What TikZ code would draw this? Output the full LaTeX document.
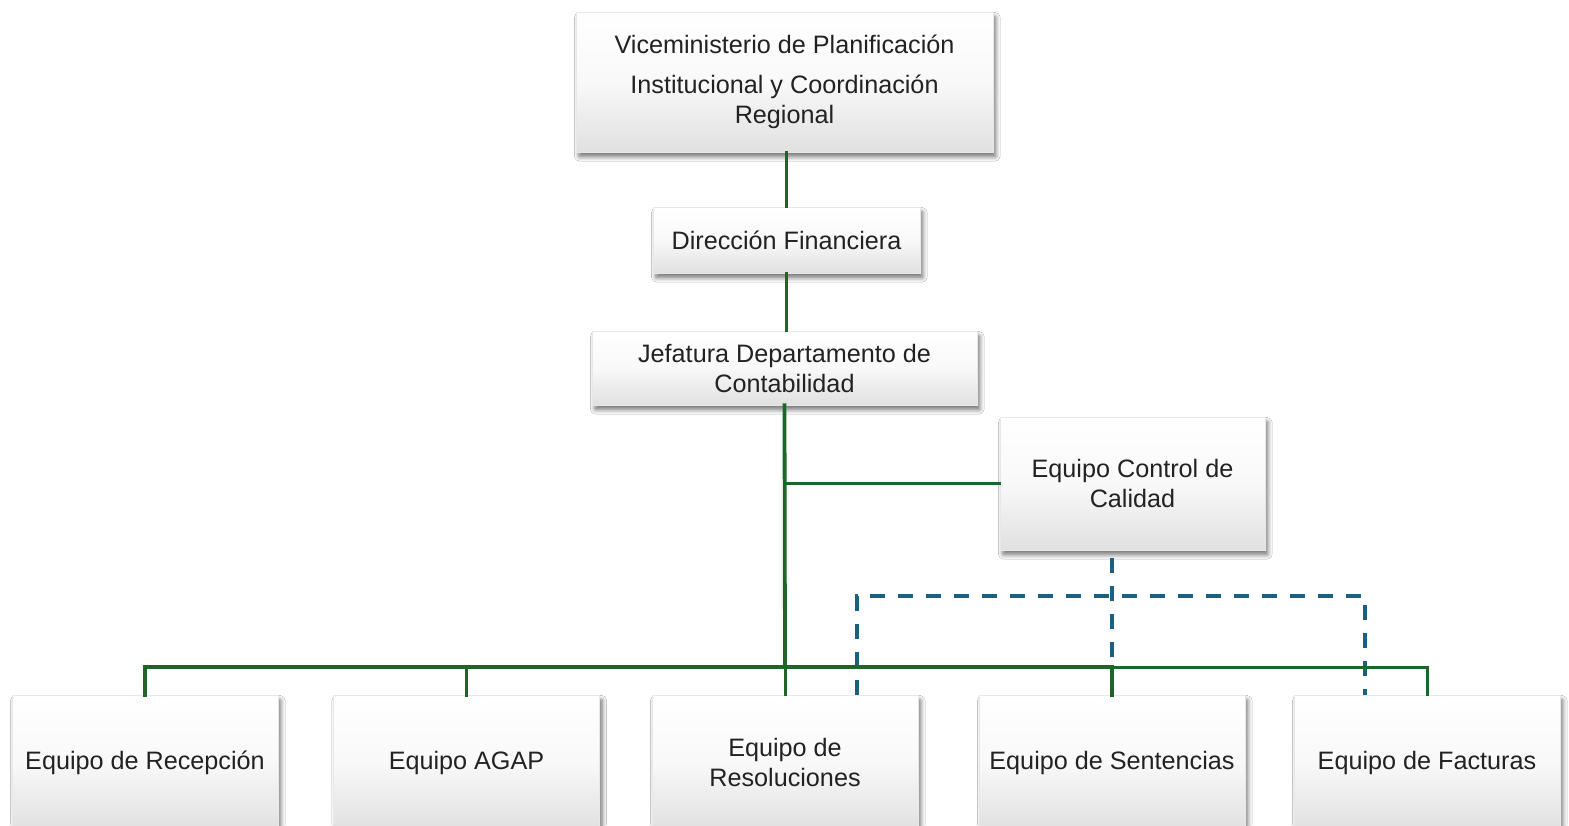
\documentclass[tikz,border=0pt]{standalone}
\usepackage{fontspec}
\setmainfont{Liberation Sans}
\usetikzlibrary{shadows.blur,calc}
\definecolor{orggreen}{RGB}{28,102,40}
\definecolor{orgblue}{RGB}{26,96,128}
\definecolor{txt}{RGB}{34,34,34}
\tikzset{
  orgbox/.style={rectangle, draw=gray!18, line width=0.3pt,
    top color=white, bottom color=gray!24, middle color=white!95!gray,
    text=txt, align=center, inner sep=2pt,
    font=\fontsize{12.6}{15}\selectfont,
    blur shadow={shadow xshift=1.4pt, shadow yshift=-2.4pt, shadow blur steps=8, shadow blur radius=2.2pt, shadow blur extra rounding=0.4pt, shadow opacity=55}},
  solidlink/.style={draw=orggreen, line width=1.5pt, line cap=rect},
  dashlink/.style={draw=orgblue, line width=1.7pt, dash pattern=on 7.5pt off 6.5pt}
}
\begin{document}
\begin{tikzpicture}[x=0.5pt,y=-0.5pt]
\clip (0,0) rectangle (1569,825);
\fill[white] (0,0) rectangle (1569,825);
% boxes
\node[orgbox, minimum width=208.5pt, minimum height=70pt] (vic) at (784.5,82) {Viceministerio de Planificación\\[5pt]Institucional y Coordinación\\Regional};
\node[orgbox, minimum width=133.5pt, minimum height=33pt] (dir) at (786.5,240) {Dirección Financiera};
\node[orgbox, minimum width=192.5pt, minimum height=37pt] (jef) at (784.5,368) {Jefatura Departamento de\\Contabilidad};
\node[orgbox, minimum width=132.5pt, minimum height=66.5pt] (ctl) at (1132.5,483.5) {Equipo Control de\\Calidad};
\node[orgbox, minimum width=133pt, minimum height=67.5pt] (rec) at (145,762.5) {Equipo de Recepción};
\node[orgbox, minimum width=133pt, minimum height=67.5pt] (aga) at (466.5,762.5) {Equipo AGAP};
\node[orgbox, minimum width=133pt, minimum height=67.5pt] (res) at (785,762.5) {Equipo de\\Resoluciones};
\node[orgbox, minimum width=133pt, minimum height=67.5pt] (sen) at (1112,762.5) {Equipo de Sentencias};
\node[orgbox, minimum width=133pt, minimum height=67.5pt] (fac) at (1427,762.5) {Equipo de Facturas};
% coordinates
\coordinate (bus) at (785,667);
\coordinate (dl) at (857,596);
\coordinate (dr) at (1365,596);
% dashed links
\draw[dashlink] (dl |- res.north) -- (dl) -- (dr) -- (dr |- fac.north);
\draw[dashlink] (sen.north |- ctl.south) ++(0,8) -- (sen.north);
% solid links
\draw[solidlink] (vic.south -| dir.north) -- (dir.north);
\draw[solidlink] (dir.south) -- (dir.south |- jef.north);
\draw[solidlink, line width=1.9pt] (jef.south) -- (bus);
\draw[solidlink] (ctl.west) -- (ctl.west -| jef.south);
\draw[solidlink, line width=1.8pt] (rec.north) |- (bus);
\draw[solidlink, line width=1.8pt] (aga.north) |- (bus);
\draw[solidlink] (res.north) -- (bus);
\draw[solidlink, line width=1.8pt] (sen.north) |- (bus);
\draw[solidlink] (fac.north) |- (bus);
\end{tikzpicture}
\end{document}
